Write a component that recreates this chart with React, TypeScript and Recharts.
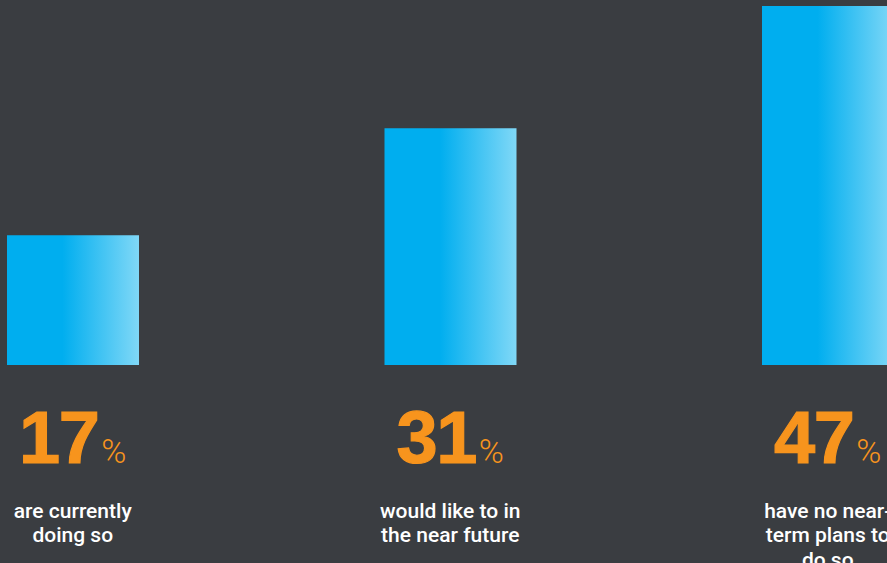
import React from "react";
import { BarChart, Bar, XAxis, YAxis } from "recharts";

const categories = ["current", "future", "none"];
const percentValues = [17, 31, 47];
const descriptionLines = [
  ["are currently", "doing so"],
  ["would like to in", "the near future"],
  ["have no near-", "term plans to", "do so"],
];

const data = categories.map((name, i) => ({ name, value: percentValues[i] }));

const BG = "#3a3d41";
const ORANGE = "#f7941d";

const Tick = (props: any) => {
  const { x, y, payload } = props;
  const i = payload.index;
  const lines = descriptionLines[i] || [];
  return (
    <g>
      <text x={x} y={y + 90} textAnchor="middle" fill={ORANGE}>
        <tspan
          fontFamily="'Liberation Sans', Arial, sans-serif"
          fontWeight={700}
          fontSize={74}
          letterSpacing={-1.5}
          stroke={ORANGE}
          strokeWidth={1.2}
        >
          {percentValues[i]}
        </tspan>
        <tspan fontFamily="Roboto, sans-serif" fontWeight={300} fontSize={34} dx={3}>
          %
        </tspan>
      </text>
      {lines.map((ln: string, k: number) => (
        <text
          key={k}
          x={x}
          y={y + 144.5 + k * 24.5}
          textAnchor="middle"
          fill="#ffffff"
          fontFamily="Roboto, sans-serif"
          fontWeight={500}
          fontSize={21}
        >
          {ln}
        </text>
      ))}
    </g>
  );
};

export default function App() {
  return (
    <div
      style={{
        position: "fixed",
        left: 0,
        top: 0,
        width: 887,
        height: 563,
        overflow: "hidden",
        background: BG,
      }}
    >
      <div style={{ position: "absolute", left: -115.75, top: 0 }}>
        <BarChart
          width={1132.5}
          height={563}
          data={data}
          margin={{ top: 6, right: 0, bottom: 0, left: 0 }}
        >
          <defs>
            <linearGradient id="barGrad" x1="0" y1="0" x2="1" y2="0">
              <stop offset="0" stopColor="#00aeef" />
              <stop offset="0.42" stopColor="#00aeef" />
              <stop offset="1" stopColor="#80d8f7" />
            </linearGradient>
          </defs>
          <XAxis
            dataKey="name"
            axisLine={false}
            tickLine={false}
            height={198}
            interval={0}
            tick={<Tick />}
          />
          <YAxis hide domain={[0, 47]} />
          <Bar dataKey="value" fill="url(#barGrad)" barSize={132} isAnimationActive={false} />
        </BarChart>
      </div>
    </div>
  );
}
